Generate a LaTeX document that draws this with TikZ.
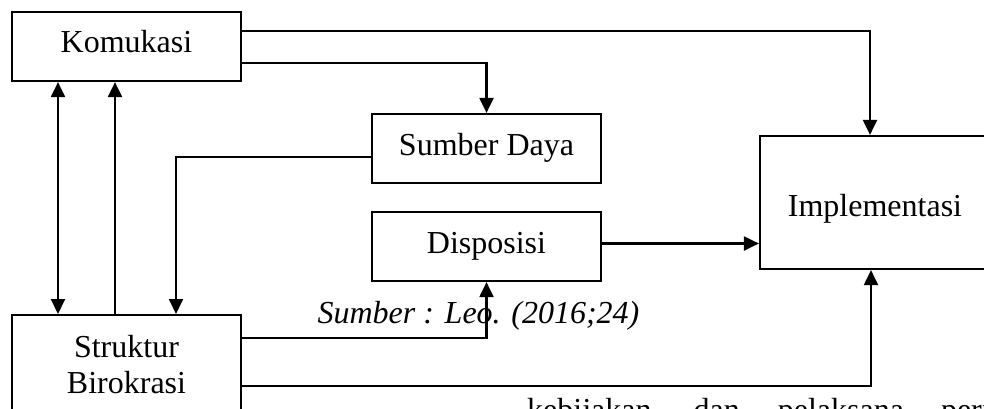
\documentclass[tikz,border=0pt]{standalone}
\usepackage{fontspec}
\setmainfont{Liberation Serif}
\usetikzlibrary{arrows.meta}
\begin{document}
\begin{tikzpicture}[x=1pt,y=-1pt,
  lbl/.style={font=\fontsize{32}{36}\selectfont},
  box/.style={draw, line width=2.2pt, minimum width=229pt, minimum height=69pt,
    inner sep=0pt, lbl, text height=22pt, text depth=9pt},
  conn/.style={line width=2.1pt, -{Triangle[length=15pt,width=14pt]}},
  both/.style={line width=2.1pt, {Triangle[length=15pt,width=14pt]}-{Triangle[length=15pt,width=14pt]}},
  plainline/.style={line width=2.1pt}]
\useasboundingbox (0,0) rectangle (984,409);
\clip (0,0) rectangle (984,409);

\node[box] (K) at (126.5,46.5) {Komukasi};
\node[box] (S) at (486.5,148.5) {Sumber Daya};
\node[box] (D) at (486.5,246.5) {Disposisi};
\node[box, minimum width=230pt, minimum height=133pt, text height=30pt, text depth=3pt] (I) at (875,202.5) {Implementasi};
\node[draw, line width=2.2pt, anchor=north, align=center, lbl, inner xsep=0pt, inner ysep=20pt,
  minimum width=229pt] (B) at (126.5,314) {Struktur\\Birokrasi};

\node[font=\fontsize{32}{36}\selectfont\itshape, anchor=base, inner sep=0pt] (src) at (478.5,323) {Sumber : Leo. (2016;24)};
\node[lbl, anchor=base west, inner sep=0pt] (txt) at (527,420)
  {kebijakan\hspace{42pt}dan\hspace{38pt}pelaksana\hspace{37pt}peri};

% Komukasi connections
\draw[conn] ([yshift=15.5pt]K.east) -| ([xshift=-5pt]I.north);
\draw[conn] ([yshift=-16.5pt]K.east) -| (S.north);
\draw[both] ([xshift=-68.5pt]K.south) -- ([xshift=-68.5pt]B.north);
\draw[conn] ([xshift=-11.5pt]B.north) -- ([xshift=-11.5pt]K.south);

% Sumber Daya to Struktur
\draw[conn] ([yshift=-8.5pt]S.west) -| ([xshift=49.5pt]B.north);

% Disposisi to Implementasi
\coordinate (d1) at ([yshift=3pt]D.east);
\draw[conn] (d1) -- (d1 -| I.west);

% Struktur connections
\draw[conn] ([yshift=-24pt]B.north east) -| (D.south);
\draw[conn] ([yshift=-72pt]B.north east) -| ([xshift=-4pt]I.south);
\end{tikzpicture}
\end{document}
